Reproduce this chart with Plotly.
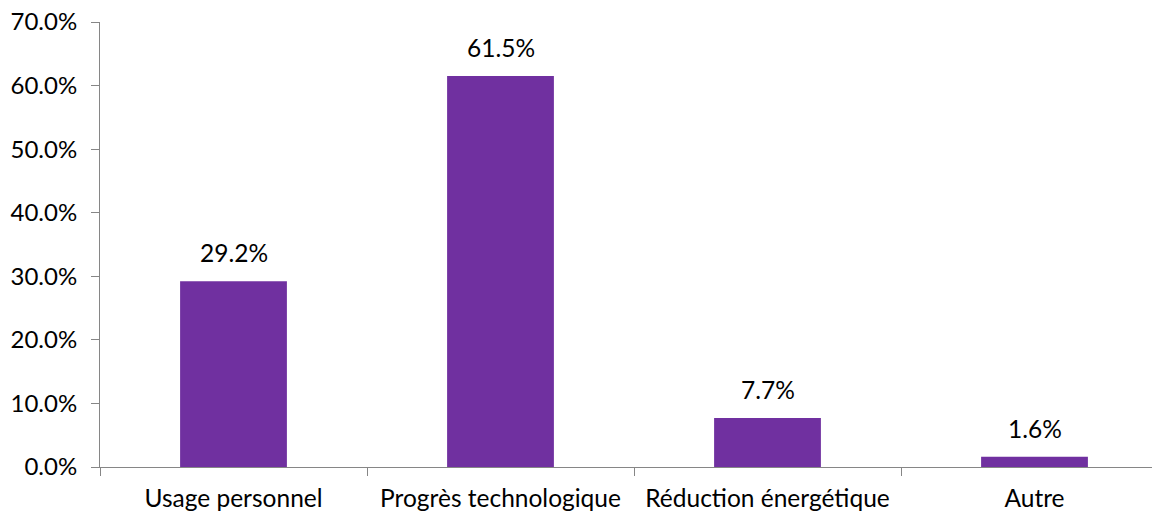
import plotly.graph_objects as go

categories = ["Usage personnel", "Progrès technologique", "Réduction énergétique", "Autre"]
values = [29.2, 61.5, 7.7, 1.6]
y_ticks = [0, 10, 20, 30, 40, 50, 60, 70]
y_tick_labels = ["0.0%", "10.0%", "20.0%", "30.0%", "40.0%", "50.0%", "60.0%", "70.0%"]

FONT = "Lato"
FS = 24.5
AXIS = "#868686"

fig = go.Figure()
fig.add_trace(go.Bar(
    x=categories, y=values, width=0.4,
    marker=dict(color="#7030A0", line=dict(width=0)),
    hoverinfo="skip",
))
for c, v in zip(categories, values):
    fig.add_annotation(x=c, y=v, text=f"{v:.1f}%", showarrow=False,
                       yanchor="bottom", yshift=12,
                       font=dict(family=FONT, size=FS, color="#000000"))

fig.update_layout(
    width=1160, height=512,
    margin=dict(l=92, r=0, t=14, b=53),
    plot_bgcolor="white", paper_bgcolor="white",
    showlegend=False,
    font=dict(family=FONT, size=FS, color="#000000"),
    xaxis=dict(
        type="category", range=[-0.5, 3.5], automargin=False,
        tickson="boundaries", ticks="outside", ticklen=8, tickcolor=AXIS, tickwidth=1,
        showline=True, linecolor=AXIS, linewidth=1, showgrid=False, zeroline=False,
        ticklabelstandoff=10, ticklabeloverflow="allow",
        tickfont=dict(family=FONT, size=FS, color="#000000"),
    ),
    yaxis=dict(
        range=[0, 70], tickvals=y_ticks, ticktext=y_tick_labels, automargin=False,
        ticks="outside", ticklen=8, tickcolor=AXIS, tickwidth=1,
        showline=True, linecolor=AXIS, linewidth=1, showgrid=False, zeroline=False,
        ticklabelstandoff=9, ticklabeloverflow="allow",
        tickfont=dict(family=FONT, size=24, color="#000000"),
    ),
)
fig.write_html("out.html")
